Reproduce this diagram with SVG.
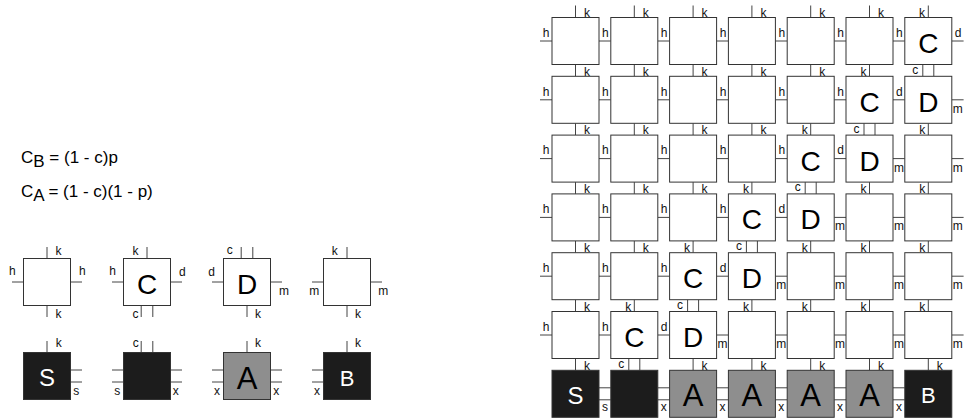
<svg xmlns="http://www.w3.org/2000/svg" width="964" height="420" viewBox="0 0 964 420">
<style>
.t{fill:#fff;stroke:#333;stroke-width:1}
.b{fill:#1c1c1c;stroke:#333;stroke-width:1}
.g{fill:#8e8e8e;stroke:#333;stroke-width:1}
.s{stroke:#444;stroke-width:1;fill:none}
text{font-family:"Liberation Sans",Arial,sans-serif}
.l{font-size:12px;fill:#111}
.m{text-anchor:middle}
.e{text-anchor:end}
.L{font-size:28px;fill:#000;text-anchor:middle}
.A{font-size:31px;fill:#000;text-anchor:middle}
.S{font-size:24px;fill:#fff;text-anchor:middle}
.B{font-size:22px;fill:#fff;text-anchor:middle}
.eq{font-size:17px;fill:#000}
</style>
<rect width="964" height="420" fill="#fff"/>
<g id="equations">
<text class="eq" x="21" y="162.5">C<tspan dy="4">B</tspan><tspan dy="-4"> = (1 - c)p</tspan></text>
<text class="eq" x="21" y="197">C<tspan dy="4">A</tspan><tspan dy="-4"> = (1 - c)(1 - p)</tspan></text>
</g>
<g id="legend-connectors">
<path class="s" d="M47 247V258.5M47 305.5V317M12 282H23.5M70.5 282H82"/>
<text class="l" x="55.5" y="255">k</text><text class="l" x="55.5" y="317.5">k</text><text class="l" x="9" y="275.3">h</text><text class="l" x="79" y="275.3">h</text>
<path class="s" d="M147 247V258.5M112 282H123.5M170.5 282H182M141.2 305.5V317M152.8 305.5V317"/>
<text class="l" x="132.5" y="255">k</text><text class="l" x="109.3" y="275.3">h</text><text class="l" x="179" y="275.7">d</text><text class="l" x="132.5" y="317.5">c</text>
<path class="s" d="M241.2 247V258.5M252.8 247V258.5M212 282H223.5M270.5 282H282M247 305.5V317"/>
<text class="l" x="226.7" y="254">c</text><text class="l" x="208.3" y="276">d</text><text class="l" x="279" y="295">m</text><text class="l" x="255" y="317.5">k</text>
<path class="s" d="M347 247V258.5M312 282H323.5M370.5 282H382M347 305.5V317"/>
<text class="l" x="331.7" y="254.5">k</text><text class="l" x="309.3" y="295">m</text><text class="l" x="378.3" y="295">m</text><text class="l" x="355" y="317.5">k</text>
<path class="s" d="M47 341V352.5M70.5 370H82M70.5 382H82"/>
<text class="l" x="55.7" y="347.3">k</text><text class="l" x="73.3" y="395">s</text>
<path class="s" d="M141.2 341V352.5M152.8 341V352.5M112 370H123.5M112 382H123.5M170.5 370H182M170.5 382H182"/>
<text class="l" x="132.7" y="347.3">c</text><text class="l" x="114.3" y="395">s</text><text class="l" x="172.7" y="395">x</text>
<path class="s" d="M247 341V352.5M212 370H223.5M212 382H223.5M270.5 370H282M270.5 382H282"/>
<text class="l" x="255" y="347.3">k</text><text class="l" x="214" y="395">x</text><text class="l" x="273.3" y="395">x</text>
<path class="s" d="M347 341V352.5M312 370H323.5M312 382H323.5"/>
<text class="l" x="355" y="347.3">k</text><text class="l" x="314" y="395">x</text>
</g>
<g id="legend-h"><rect class="t" x="23.5" y="258.5" width="47" height="47"/></g>
<g id="legend-C"><rect class="t" x="123.5" y="258.5" width="47" height="47"/><text class="L" x="147" y="294">C</text></g>
<g id="legend-D"><rect class="t" x="223.5" y="258.5" width="47" height="47"/><text class="L" x="247" y="294">D</text></g>
<g id="legend-m"><rect class="t" x="323.5" y="258.5" width="47" height="47"/></g>
<g id="legend-S"><rect class="b" x="23.5" y="352.5" width="47" height="47"/><text class="S" x="47" y="386">S</text></g>
<g id="legend-black"><rect class="b" x="123.5" y="352.5" width="47" height="47"/></g>
<g id="legend-A"><rect class="g" x="223.5" y="352.5" width="47" height="47"/><text class="A" x="247" y="388.5">A</text></g>
<g id="legend-B"><rect class="b" x="323.5" y="352.5" width="47" height="47"/><text class="B" x="347" y="385.5">B</text></g>

<g id="connectors">
<path class="s" d="M575.5 5.5V17.5M634.3 5.5V17.5M693.1 5.5V17.5M751.9 5.5V17.5M810.7 5.5V17.5M869.5 5.5V17.5M928.3 5.5V17.5"/>
<text class="l" x="584" y="16.5">k</text><text class="l" x="642.8" y="16.5">k</text><text class="l" x="701.6" y="16.5">k</text><text class="l" x="760.4" y="16.5">k</text><text class="l" x="819.2" y="16.5">k</text><text class="l" x="878" y="16.5">k</text><text class="l e" x="925" y="16.5">k</text>
<path class="s" d="M575.5 64.5V76.3M634.3 64.5V76.3M693.1 64.5V76.3M751.9 64.5V76.3M810.7 64.5V76.3M869.5 64.5V76.3M922.8 64.5V76.3M933.8 64.5V76.3"/>
<text class="l" x="584" y="75.5">k</text><text class="l" x="642.8" y="75.5">k</text><text class="l" x="701.6" y="75.5">k</text><text class="l" x="760.4" y="75.5">k</text><text class="l" x="819.2" y="75.5">k</text><text class="l e" x="866.5" y="75.5">k</text><text class="l e" x="918.3" y="73.8">c</text>
<path class="s" d="M575.5 123.3V135.1M634.3 123.3V135.1M693.1 123.3V135.1M751.9 123.3V135.1M810.7 123.3V135.1M864 123.3V135.1M875 123.3V135.1M928.3 123.3V135.1"/>
<text class="l" x="584" y="134.3">k</text><text class="l" x="642.8" y="134.3">k</text><text class="l" x="701.6" y="134.3">k</text><text class="l" x="760.4" y="134.3">k</text><text class="l e" x="807.7" y="134.3">k</text><text class="l e" x="859.5" y="132.6">c</text><text class="l e" x="925.3" y="134.3">k</text>
<path class="s" d="M575.5 182.1V193.9M634.3 182.1V193.9M693.1 182.1V193.9M751.9 182.1V193.9M805.2 182.1V193.9M816.2 182.1V193.9M869.5 182.1V193.9M928.3 182.1V193.9"/>
<text class="l" x="584" y="193.1">k</text><text class="l" x="642.8" y="193.1">k</text><text class="l" x="701.6" y="193.1">k</text><text class="l e" x="748.9" y="193.1">k</text><text class="l e" x="800.7" y="191.4">c</text><text class="l e" x="866.5" y="193.1">k</text><text class="l e" x="925.3" y="193.1">k</text>
<path class="s" d="M575.5 240.9V252.7M634.3 240.9V252.7M693.1 240.9V252.7M746.4 240.9V252.7M757.4 240.9V252.7M810.7 240.9V252.7M869.5 240.9V252.7M928.3 240.9V252.7"/>
<text class="l" x="584" y="251.9">k</text><text class="l" x="642.8" y="251.9">k</text><text class="l e" x="690.1" y="251.9">k</text><text class="l e" x="741.9" y="250.2">c</text><text class="l e" x="807.7" y="251.9">k</text><text class="l e" x="866.5" y="251.9">k</text><text class="l e" x="925.3" y="251.9">k</text>
<path class="s" d="M575.5 299.7V311.5M634.3 299.7V311.5M687.6 299.7V311.5M698.6 299.7V311.5M751.9 299.7V311.5M810.7 299.7V311.5M869.5 299.7V311.5M928.3 299.7V311.5"/>
<text class="l" x="584" y="310.7">k</text><text class="l e" x="631.3" y="310.7">k</text><text class="l e" x="683.1" y="309">c</text><text class="l e" x="748.9" y="310.7">k</text><text class="l e" x="807.7" y="310.7">k</text><text class="l e" x="866.5" y="310.7">k</text><text class="l e" x="925.3" y="310.7">k</text>
<path class="s" d="M575.5 358.5V370.3M628.8 358.5V370.3M639.8 358.5V370.3M693.1 358.5V370.3M751.9 358.5V370.3M810.7 358.5V370.3M869.5 358.5V370.3M928.3 358.5V370.3"/>
<text class="l" x="584" y="369.5">k</text><text class="l e" x="624.3" y="367.8">c</text><text class="l" x="701.6" y="369.5">k</text><text class="l" x="760.4" y="369.5">k</text><text class="l" x="819.2" y="369.5">k</text><text class="l" x="878" y="369.5">k</text><text class="l" x="936.8" y="369.5">k</text>

<path class="s" d="M540 41H552M599 41H610.8M657.8 41H669.6M716.6 41H728.4M775.4 41H787.2M834.2 41H846M893 41H904.8M951.8 41H963.6"/>
<text class="l m" x="546" y="36.7">h</text><text class="l m" x="605.4" y="36.7">h</text><text class="l m" x="664.2" y="36.7">h</text><text class="l m" x="723" y="36.7">h</text><text class="l m" x="781.8" y="36.7">h</text><text class="l m" x="840.6" y="36.7">h</text><text class="l m" x="899.4" y="36.7">h</text><text class="l m" x="958.2" y="36.7">d</text>
<path class="s" d="M540 99.8H552M599 99.8H610.8M657.8 99.8H669.6M716.6 99.8H728.4M775.4 99.8H787.2M834.2 99.8H846M893 99.8H904.8M951.8 99.8H963.6"/>
<text class="l m" x="546" y="95.5">h</text><text class="l m" x="605.4" y="95.5">h</text><text class="l m" x="664.2" y="95.5">h</text><text class="l m" x="723" y="95.5">h</text><text class="l m" x="781.8" y="95.5">h</text><text class="l m" x="840.6" y="95.5">h</text><text class="l m" x="899.4" y="95.5">d</text><text class="l m" x="957.7" y="112.8">m</text>
<path class="s" d="M540 158.6H552M599 158.6H610.8M657.8 158.6H669.6M716.6 158.6H728.4M775.4 158.6H787.2M834.2 158.6H846M893 158.6H904.8M951.8 158.6H963.6"/>
<text class="l m" x="546" y="154.3">h</text><text class="l m" x="605.4" y="154.3">h</text><text class="l m" x="664.2" y="154.3">h</text><text class="l m" x="723" y="154.3">h</text><text class="l m" x="781.8" y="154.3">h</text><text class="l m" x="840.6" y="154.3">d</text><text class="l m" x="898.9" y="171.6">m</text><text class="l m" x="957.7" y="171.6">m</text>
<path class="s" d="M540 217.4H552M599 217.4H610.8M657.8 217.4H669.6M716.6 217.4H728.4M775.4 217.4H787.2M834.2 217.4H846M893 217.4H904.8M951.8 217.4H963.6"/>
<text class="l m" x="546" y="213.1">h</text><text class="l m" x="605.4" y="213.1">h</text><text class="l m" x="664.2" y="213.1">h</text><text class="l m" x="723" y="213.1">h</text><text class="l m" x="781.8" y="213.1">d</text><text class="l m" x="840.1" y="230.4">m</text><text class="l m" x="898.9" y="230.4">m</text><text class="l m" x="957.7" y="230.4">m</text>
<path class="s" d="M540 276.2H552M599 276.2H610.8M657.8 276.2H669.6M716.6 276.2H728.4M775.4 276.2H787.2M834.2 276.2H846M893 276.2H904.8M951.8 276.2H963.6"/>
<text class="l m" x="546" y="271.9">h</text><text class="l m" x="605.4" y="271.9">h</text><text class="l m" x="664.2" y="271.9">h</text><text class="l m" x="723" y="271.9">d</text><text class="l m" x="781.3" y="289.2">m</text><text class="l m" x="840.1" y="289.2">m</text><text class="l m" x="898.9" y="289.2">m</text><text class="l m" x="957.7" y="289.2">m</text>
<path class="s" d="M540 335H552M599 335H610.8M657.8 335H669.6M716.6 335H728.4M775.4 335H787.2M834.2 335H846M893 335H904.8M951.8 335H963.6"/>
<text class="l m" x="546" y="330.7">h</text><text class="l m" x="605.4" y="330.7">h</text><text class="l m" x="664.2" y="330.7">d</text><text class="l m" x="722.5" y="348">m</text><text class="l m" x="781.3" y="348">m</text><text class="l m" x="840.1" y="348">m</text><text class="l m" x="898.9" y="348">m</text><text class="l m" x="957.7" y="348">m</text>
<path class="s" d="M599 387.8H610.8M599 399.8H610.8M657.8 387.8H669.6M657.8 399.8H669.6M716.6 387.8H728.4M716.6 399.8H728.4M775.4 387.8H787.2M775.4 399.8H787.2M834.2 387.8H846M834.2 399.8H846M893 387.8H904.8M893 399.8H904.8"/>
<text class="l m" x="604.9" y="411">s</text><text class="l m" x="663.7" y="411">x</text><text class="l m" x="722.5" y="411">x</text><text class="l m" x="781.3" y="411">x</text><text class="l m" x="840.1" y="411">x</text><text class="l m" x="898.9" y="411">x</text>
</g>

<g id="r0c0"><rect class="t" x="552" y="17.5" width="47" height="47"/></g>
<g id="r0c1"><rect class="t" x="610.8" y="17.5" width="47" height="47"/></g>
<g id="r0c2"><rect class="t" x="669.6" y="17.5" width="47" height="47"/></g>
<g id="r0c3"><rect class="t" x="728.4" y="17.5" width="47" height="47"/></g>
<g id="r0c4"><rect class="t" x="787.2" y="17.5" width="47" height="47"/></g>
<g id="r0c5"><rect class="t" x="846" y="17.5" width="47" height="47"/></g>
<g id="r0c6"><rect class="t" x="904.8" y="17.5" width="47" height="47"/><text class="L" x="928.3" y="53">C</text></g>

<g id="r1c0"><rect class="t" x="552" y="76.3" width="47" height="47"/></g>
<g id="r1c1"><rect class="t" x="610.8" y="76.3" width="47" height="47"/></g>
<g id="r1c2"><rect class="t" x="669.6" y="76.3" width="47" height="47"/></g>
<g id="r1c3"><rect class="t" x="728.4" y="76.3" width="47" height="47"/></g>
<g id="r1c4"><rect class="t" x="787.2" y="76.3" width="47" height="47"/></g>
<g id="r1c5"><rect class="t" x="846" y="76.3" width="47" height="47"/><text class="L" x="869.5" y="111.8">C</text></g>
<g id="r1c6"><rect class="t" x="904.8" y="76.3" width="47" height="47"/><text class="L" x="928.3" y="111.8">D</text></g>

<g id="r2c0"><rect class="t" x="552" y="135.1" width="47" height="47"/></g>
<g id="r2c1"><rect class="t" x="610.8" y="135.1" width="47" height="47"/></g>
<g id="r2c2"><rect class="t" x="669.6" y="135.1" width="47" height="47"/></g>
<g id="r2c3"><rect class="t" x="728.4" y="135.1" width="47" height="47"/></g>
<g id="r2c4"><rect class="t" x="787.2" y="135.1" width="47" height="47"/><text class="L" x="810.7" y="170.6">C</text></g>
<g id="r2c5"><rect class="t" x="846" y="135.1" width="47" height="47"/><text class="L" x="869.5" y="170.6">D</text></g>
<g id="r2c6"><rect class="t" x="904.8" y="135.1" width="47" height="47"/></g>

<g id="r3c0"><rect class="t" x="552" y="193.9" width="47" height="47"/></g>
<g id="r3c1"><rect class="t" x="610.8" y="193.9" width="47" height="47"/></g>
<g id="r3c2"><rect class="t" x="669.6" y="193.9" width="47" height="47"/></g>
<g id="r3c3"><rect class="t" x="728.4" y="193.9" width="47" height="47"/><text class="L" x="751.9" y="229.4">C</text></g>
<g id="r3c4"><rect class="t" x="787.2" y="193.9" width="47" height="47"/><text class="L" x="810.7" y="229.4">D</text></g>
<g id="r3c5"><rect class="t" x="846" y="193.9" width="47" height="47"/></g>
<g id="r3c6"><rect class="t" x="904.8" y="193.9" width="47" height="47"/></g>

<g id="r4c0"><rect class="t" x="552" y="252.7" width="47" height="47"/></g>
<g id="r4c1"><rect class="t" x="610.8" y="252.7" width="47" height="47"/></g>
<g id="r4c2"><rect class="t" x="669.6" y="252.7" width="47" height="47"/><text class="L" x="693.1" y="288.2">C</text></g>
<g id="r4c3"><rect class="t" x="728.4" y="252.7" width="47" height="47"/><text class="L" x="751.9" y="288.2">D</text></g>
<g id="r4c4"><rect class="t" x="787.2" y="252.7" width="47" height="47"/></g>
<g id="r4c5"><rect class="t" x="846" y="252.7" width="47" height="47"/></g>
<g id="r4c6"><rect class="t" x="904.8" y="252.7" width="47" height="47"/></g>

<g id="r5c0"><rect class="t" x="552" y="311.5" width="47" height="47"/></g>
<g id="r5c1"><rect class="t" x="610.8" y="311.5" width="47" height="47"/><text class="L" x="634.3" y="347">C</text></g>
<g id="r5c2"><rect class="t" x="669.6" y="311.5" width="47" height="47"/><text class="L" x="693.1" y="347">D</text></g>
<g id="r5c3"><rect class="t" x="728.4" y="311.5" width="47" height="47"/></g>
<g id="r5c4"><rect class="t" x="787.2" y="311.5" width="47" height="47"/></g>
<g id="r5c5"><rect class="t" x="846" y="311.5" width="47" height="47"/></g>
<g id="r5c6"><rect class="t" x="904.8" y="311.5" width="47" height="47"/></g>

<g id="r6c0"><rect class="b" x="552" y="370.3" width="47" height="47"/><text class="S" x="575.5" y="403.8">S</text></g>
<g id="r6c1"><rect class="b" x="610.8" y="370.3" width="47" height="47"/></g>
<g id="r6c2"><rect class="g" x="669.6" y="370.3" width="47" height="47"/><text class="A" x="693.1" y="406.3">A</text></g>
<g id="r6c3"><rect class="g" x="728.4" y="370.3" width="47" height="47"/><text class="A" x="751.9" y="406.3">A</text></g>
<g id="r6c4"><rect class="g" x="787.2" y="370.3" width="47" height="47"/><text class="A" x="810.7" y="406.3">A</text></g>
<g id="r6c5"><rect class="g" x="846" y="370.3" width="47" height="47"/><text class="A" x="869.5" y="406.3">A</text></g>
<g id="r6c6"><rect class="b" x="904.8" y="370.3" width="47" height="47"/><text class="B" x="928.3" y="403.3">B</text></g>
</svg>
